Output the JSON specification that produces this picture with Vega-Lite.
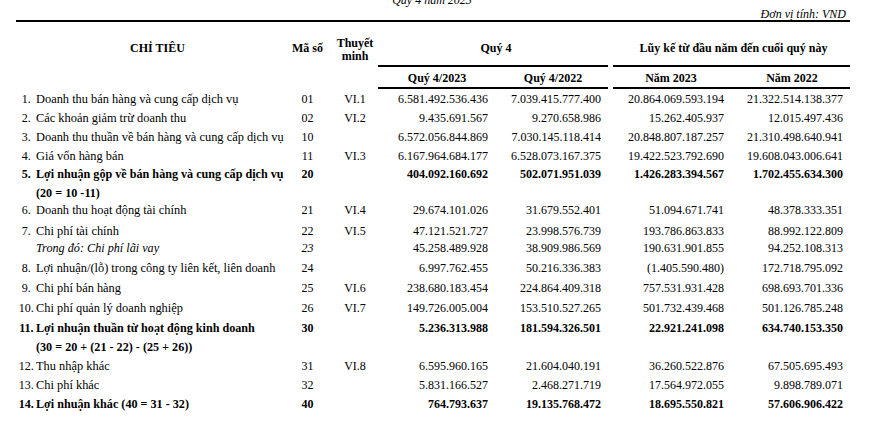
{
  "$schema": "https://vega.github.io/schema/vega-lite/v6.json",
  "width": 882,
  "height": 445,
  "autosize": {"type": "none"},
  "padding": 0,
  "background": "white",
  "config": {
    "view": {"stroke": null},
    "locale": {"number": {"decimal": ",", "thousands": ".", "grouping": [3], "currency": ["", ""]}},
    "text": {"font": "Liberation Serif", "fontSize": 12, "color": "#000000", "baseline": "middle"}
  },
  "datasets": {
    "rules": [
      {"line": -6, "col": 0, "col2": 21},
      {"line": -2, "col": 6, "col2": 13},
      {"line": -2, "col": 14, "col2": 21},
      {"line": 0, "col": 6, "col2": 13},
      {"line": 0, "col": 14, "col2": 21}
    ],
    "head": [
      {"line": -8, "col": 7, "t": "Quý 4 năm 2023", "type": "title"},
      {"line": -7, "col": 20, "t": "Đơn vị tính: VND", "type": "unit"},
      {"line": -4, "col": 3, "t": "CHỈ TIÊU", "type": "head"},
      {"line": -4, "col": 4, "t": "Mã số", "type": "head"},
      {"line": -5, "col": 5, "t": "Thuyết", "type": "head"},
      {"line": -3, "col": 5, "t": "minh", "type": "head"},
      {"line": -4, "col": 10, "t": "Quý 4", "type": "head"},
      {"line": -4, "col": 17, "t": "Lũy kế từ đầu năm đến cuối quý này", "type": "head"},
      {"line": -1, "col": 8, "t": "Quý 4/2023", "type": "head"},
      {"line": -1, "col": 11, "t": "Quý 4/2022", "type": "head"},
      {"line": -1, "col": 15, "t": "Năm 2023", "type": "head"},
      {"line": -1, "col": 18, "t": "Năm 2022", "type": "head"}
    ],
    "labels": [
      {"line": 1, "col": 1, "t": "1.", "type": "item"},
      {"line": 1, "col": 2, "t": "Doanh thu bán hàng và cung cấp dịch vụ", "type": "item"},
      {"line": 1, "col": 4, "t": "01", "type": "item"},
      {"line": 1, "col": 5, "t": "VI.1", "type": "item"},
      {"line": 2, "col": 1, "t": "2.", "type": "item"},
      {"line": 2, "col": 2, "t": "Các khoản giảm trừ doanh thu", "type": "item"},
      {"line": 2, "col": 4, "t": "02", "type": "item"},
      {"line": 2, "col": 5, "t": "VI.2", "type": "item"},
      {"line": 3, "col": 1, "t": "3.", "type": "item"},
      {"line": 3, "col": 2, "t": "Doanh thu thuần về bán hàng và cung cấp dịch vụ", "type": "item"},
      {"line": 3, "col": 4, "t": "10", "type": "item"},
      {"line": 4, "col": 1, "t": "4.", "type": "item"},
      {"line": 4, "col": 2, "t": "Giá vốn hàng bán", "type": "item"},
      {"line": 4, "col": 4, "t": "11", "type": "item"},
      {"line": 4, "col": 5, "t": "VI.3", "type": "item"},
      {"line": 5, "col": 1, "t": "5.", "type": "subtotal"},
      {"line": 5, "col": 2, "t": "Lợi nhuận gộp về bán hàng và cung cấp dịch vụ", "type": "subtotal"},
      {"line": 5, "col": 4, "t": "20", "type": "subtotal"},
      {"line": 6, "col": 2, "t": "(20 = 10 -11)", "type": "subtotal"},
      {"line": 7, "col": 1, "t": "6.", "type": "item"},
      {"line": 7, "col": 2, "t": "Doanh thu hoạt động tài chính", "type": "item"},
      {"line": 7, "col": 4, "t": "21", "type": "item"},
      {"line": 7, "col": 5, "t": "VI.4", "type": "item"},
      {"line": 8, "col": 1, "t": "7.", "type": "item"},
      {"line": 8, "col": 2, "t": "Chi phí tài chính", "type": "item"},
      {"line": 8, "col": 4, "t": "22", "type": "item"},
      {"line": 8, "col": 5, "t": "VI.5", "type": "item"},
      {"line": 9, "col": 2, "t": "Trong đó: Chi phí lãi vay", "type": "memo"},
      {"line": 9, "col": 4, "t": "23", "type": "memo"},
      {"line": 10, "col": 1, "t": "8.", "type": "item"},
      {"line": 10, "col": 2, "t": "Lợi nhuận/(lỗ) trong công ty liên kết, liên doanh", "type": "item"},
      {"line": 10, "col": 4, "t": "24", "type": "item"},
      {"line": 11, "col": 1, "t": "9.", "type": "item"},
      {"line": 11, "col": 2, "t": "Chi phí bán hàng", "type": "item"},
      {"line": 11, "col": 4, "t": "25", "type": "item"},
      {"line": 11, "col": 5, "t": "VI.6", "type": "item"},
      {"line": 12, "col": 1, "t": "10.", "type": "item"},
      {"line": 12, "col": 2, "t": "Chi phí quản lý doanh nghiệp", "type": "item"},
      {"line": 12, "col": 4, "t": "26", "type": "item"},
      {"line": 12, "col": 5, "t": "VI.7", "type": "item"},
      {"line": 13, "col": 1, "t": "11.", "type": "subtotal"},
      {"line": 13, "col": 2, "t": "Lợi nhuận thuần từ hoạt động kinh doanh", "type": "subtotal"},
      {"line": 13, "col": 4, "t": "30", "type": "subtotal"},
      {"line": 14, "col": 2, "t": "(30 = 20 + (21 - 22) - (25 + 26))", "type": "subtotal"},
      {"line": 15, "col": 1, "t": "12.", "type": "item"},
      {"line": 15, "col": 2, "t": "Thu nhập khác", "type": "item"},
      {"line": 15, "col": 4, "t": "31", "type": "item"},
      {"line": 15, "col": 5, "t": "VI.8", "type": "item"},
      {"line": 16, "col": 1, "t": "13.", "type": "item"},
      {"line": 16, "col": 2, "t": "Chi phí khác", "type": "item"},
      {"line": 16, "col": 4, "t": "32", "type": "item"},
      {"line": 17, "col": 1, "t": "14.", "type": "subtotal"},
      {"line": 17, "col": 2, "t": "Lợi nhuận khác (40 = 31 - 32)", "type": "subtotal"},
      {"line": 17, "col": 4, "t": "40", "type": "subtotal"}
    ],
    "values": [
      {"line": 1, "col": 9, "v": 6581492536436, "type": "item"},
      {"line": 1, "col": 12, "v": 7039415777400, "type": "item"},
      {"line": 1, "col": 16, "v": 20864069593194, "type": "item"},
      {"line": 1, "col": 19, "v": 21322514138377, "type": "item"},
      {"line": 2, "col": 9, "v": 9435691567, "type": "item"},
      {"line": 2, "col": 12, "v": 9270658986, "type": "item"},
      {"line": 2, "col": 16, "v": 15262405937, "type": "item"},
      {"line": 2, "col": 19, "v": 12015497436, "type": "item"},
      {"line": 3, "col": 9, "v": 6572056844869, "type": "item"},
      {"line": 3, "col": 12, "v": 7030145118414, "type": "item"},
      {"line": 3, "col": 16, "v": 20848807187257, "type": "item"},
      {"line": 3, "col": 19, "v": 21310498640941, "type": "item"},
      {"line": 4, "col": 9, "v": 6167964684177, "type": "item"},
      {"line": 4, "col": 12, "v": 6528073167375, "type": "item"},
      {"line": 4, "col": 16, "v": 19422523792690, "type": "item"},
      {"line": 4, "col": 19, "v": 19608043006641, "type": "item"},
      {"line": 5, "col": 9, "v": 404092160692, "type": "subtotal"},
      {"line": 5, "col": 12, "v": 502071951039, "type": "subtotal"},
      {"line": 5, "col": 16, "v": 1426283394567, "type": "subtotal"},
      {"line": 5, "col": 19, "v": 1702455634300, "type": "subtotal"},
      {"line": 7, "col": 9, "v": 29674101026, "type": "item"},
      {"line": 7, "col": 12, "v": 31679552401, "type": "item"},
      {"line": 7, "col": 16, "v": 51094671741, "type": "item"},
      {"line": 7, "col": 19, "v": 48378333351, "type": "item"},
      {"line": 8, "col": 9, "v": 47121521727, "type": "item"},
      {"line": 8, "col": 12, "v": 23998576739, "type": "item"},
      {"line": 8, "col": 16, "v": 193786863833, "type": "item"},
      {"line": 8, "col": 19, "v": 88992122809, "type": "item"},
      {"line": 9, "col": 9, "v": 45258489928, "type": "memo"},
      {"line": 9, "col": 12, "v": 38909986569, "type": "memo"},
      {"line": 9, "col": 16, "v": 190631901855, "type": "memo"},
      {"line": 9, "col": 19, "v": 94252108313, "type": "memo"},
      {"line": 10, "col": 9, "v": 6997762455, "type": "item"},
      {"line": 10, "col": 12, "v": 50216336383, "type": "item"},
      {"line": 10, "col": 16, "v": -1405590480, "type": "item"},
      {"line": 10, "col": 19, "v": 172718795092, "type": "item"},
      {"line": 11, "col": 9, "v": 238680183454, "type": "item"},
      {"line": 11, "col": 12, "v": 224864409318, "type": "item"},
      {"line": 11, "col": 16, "v": 757531931428, "type": "item"},
      {"line": 11, "col": 19, "v": 698693701336, "type": "item"},
      {"line": 12, "col": 9, "v": 149726005004, "type": "item"},
      {"line": 12, "col": 12, "v": 153510527265, "type": "item"},
      {"line": 12, "col": 16, "v": 501732439468, "type": "item"},
      {"line": 12, "col": 19, "v": 501126785248, "type": "item"},
      {"line": 13, "col": 9, "v": 5236313988, "type": "subtotal"},
      {"line": 13, "col": 12, "v": 181594326501, "type": "subtotal"},
      {"line": 13, "col": 16, "v": 22921241098, "type": "subtotal"},
      {"line": 13, "col": 19, "v": 634740153350, "type": "subtotal"},
      {"line": 15, "col": 9, "v": 6595960165, "type": "item"},
      {"line": 15, "col": 12, "v": 21604040191, "type": "item"},
      {"line": 15, "col": 16, "v": 36260522876, "type": "item"},
      {"line": 15, "col": 19, "v": 67505695493, "type": "item"},
      {"line": 16, "col": 9, "v": 5831166527, "type": "item"},
      {"line": 16, "col": 12, "v": 2468271719, "type": "item"},
      {"line": 16, "col": 16, "v": 17564972055, "type": "item"},
      {"line": 16, "col": 19, "v": 9898789071, "type": "item"},
      {"line": 17, "col": 9, "v": 764793637, "type": "subtotal"},
      {"line": 17, "col": 12, "v": 19135768472, "type": "subtotal"},
      {"line": 17, "col": 16, "v": 18695550821, "type": "subtotal"},
      {"line": 17, "col": 19, "v": 57606906422, "type": "subtotal"}
    ]
  },
  "encoding": {
    "x": {
      "field": "col", "type": "quantitative", "axis": null,
      "scale": {
        "domain": [0, 1, 2, 3, 4, 5, 6, 7, 8, 9, 10, 11, 12, 13, 14, 15, 16, 17, 18, 19, 20, 21],
        "range": [16, 26.3, 36, 157.5, 307.5, 355, 378, 432, 437, 488, 496, 553, 601, 608, 613, 671, 724, 733.5, 792, 843, 846, 850],
        "zero": false, "nice": false
      }
    },
    "y": {
      "field": "line", "type": "quantitative", "axis": null,
      "scale": {
        "domain": [-8, -7, -6, -5, -4, -3, -2, -1, 0, 1, 2, 3, 4, 5, 6, 7, 8, 9, 10, 11, 12, 13, 14, 15, 16, 17],
        "range": [-0.5, 14, 21, 42.5, 47.5, 56, 66, 77.5, 88, 99, 118, 137, 156, 174, 193, 210, 231, 248, 268, 288, 308, 328, 347, 366, 385, 404],
        "zero": false, "nice": false
      }
    }
  },
  "layer": [
    {
      "data": {"name": "rules"},
      "mark": {"type": "rule", "strokeWidth": 2, "color": "#000000"},
      "encoding": {"x2": {"field": "col2"}}
    },
    {
      "data": {"name": "head"},
      "transform": [{"filter": "datum.type == 'head'"}],
      "mark": {"type": "text", "align": "center", "fontWeight": "bold"},
      "encoding": {"text": {"field": "t", "type": "nominal"}}
    },
    {
      "data": {"name": "head"},
      "transform": [{"filter": "datum.type == 'title'"}],
      "mark": {"type": "text", "align": "center", "fontStyle": "italic"},
      "encoding": {"text": {"field": "t", "type": "nominal"}}
    },
    {
      "data": {"name": "head"},
      "transform": [{"filter": "datum.type == 'unit'"}],
      "mark": {"type": "text", "align": "right", "fontStyle": "italic"},
      "encoding": {"text": {"field": "t", "type": "nominal"}}
    },
    {
      "data": {"name": "labels"},
      "transform": [{"filter": "datum.col == 2 && datum.type == 'item'"}],
      "mark": {"type": "text", "align": "left", "fontSize": 12.4},
      "encoding": {"text": {"field": "t", "type": "nominal"}}
    },
    {
      "data": {"name": "labels"},
      "transform": [{"filter": "datum.col == 2 && datum.type == 'subtotal'"}],
      "mark": {"type": "text", "align": "left", "fontWeight": "bold", "fontSize": 12.15},
      "encoding": {"text": {"field": "t", "type": "nominal"}}
    },
    {
      "data": {"name": "labels"},
      "transform": [{"filter": "datum.col == 2 && datum.type == 'memo'"}],
      "mark": {"type": "text", "align": "left", "fontStyle": "italic", "fontSize": 12.2},
      "encoding": {"text": {"field": "t", "type": "nominal"}}
    },
    {
      "data": {"name": "labels"},
      "transform": [{"filter": "datum.col != 2 && datum.type == 'item'"}],
      "mark": {"type": "text", "align": "center"},
      "encoding": {"text": {"field": "t", "type": "nominal"}}
    },
    {
      "data": {"name": "labels"},
      "transform": [{"filter": "datum.col != 2 && datum.type == 'subtotal'"}],
      "mark": {"type": "text", "align": "center", "fontWeight": "bold"},
      "encoding": {"text": {"field": "t", "type": "nominal"}}
    },
    {
      "data": {"name": "labels"},
      "transform": [{"filter": "datum.col != 2 && datum.type == 'memo'"}],
      "mark": {"type": "text", "align": "center", "fontStyle": "italic"},
      "encoding": {"text": {"field": "t", "type": "nominal"}}
    },
    {
      "data": {"name": "values"},
      "transform": [{"filter": "datum.type != 'subtotal'"}],
      "mark": {"type": "text", "align": "right"},
      "encoding": {"text": {"field": "v", "type": "quantitative", "format": "(,d"}}
    },
    {
      "data": {"name": "values"},
      "transform": [{"filter": "datum.type == 'subtotal'"}],
      "mark": {"type": "text", "align": "right", "fontWeight": "bold"},
      "encoding": {"text": {"field": "v", "type": "quantitative", "format": "(,d"}}
    }
  ]
}
